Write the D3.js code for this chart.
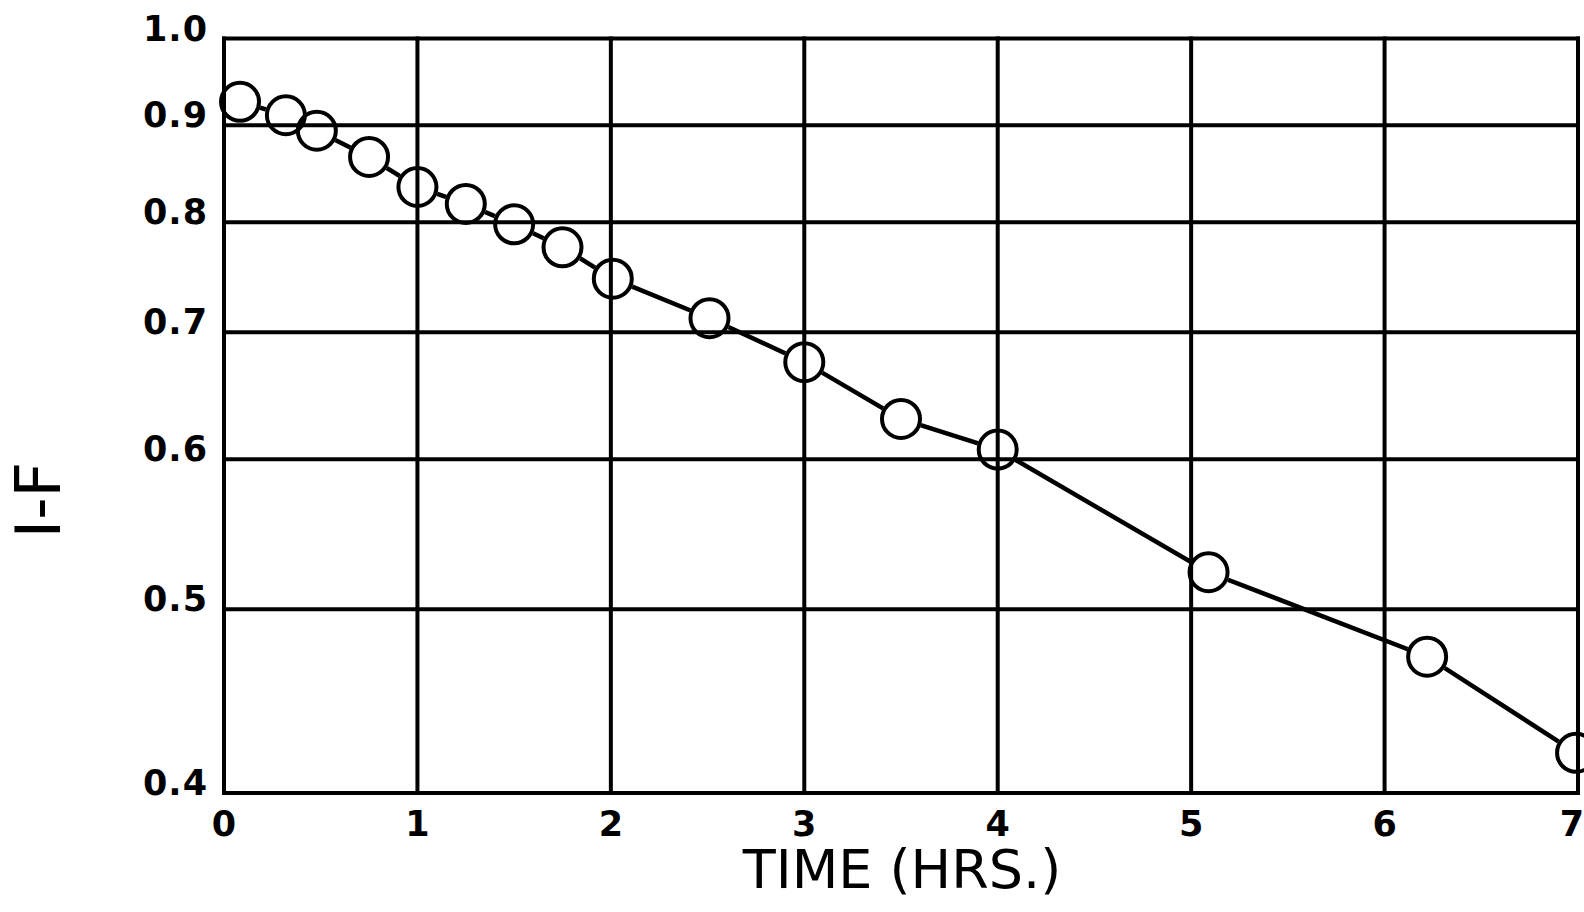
<!DOCTYPE html>
<html>
<head>
<meta charset="utf-8">
<script src="https://cdn.jsdelivr.net/npm/d3@7"></script>
<style>
  body { margin: 0; background: #fff; }
  svg { display: block; }
</style>
</head>
<body>
<script>
// measured samples: time in hours, 1-F
const times = [0.083, 0.32, 0.48, 0.75, 1.0, 1.25, 1.5, 1.75, 2.01, 2.51, 3.0, 3.5, 4.0, 5.09, 6.22, 6.99];
const values = [0.926, 0.911, 0.894, 0.866, 0.835, 0.818, 0.798, 0.776, 0.747, 0.712, 0.675, 0.630, 0.607, 0.523, 0.472, 0.420];
const xTicks = [0, 1, 2, 3, 4, 5, 6, 7];
const yTicks = [0.4, 0.5, 0.6, 0.7, 0.8, 0.9, 1.0];
const yTickLabels = ["0.4", "0.5", "0.6", "0.7", "0.8", "0.9", "1.0"];

const w = 1584;
const h = 912;
const plotLeft = 224, plotRight = 1578, plotTop = 38.5, plotBottom = 793;
const r = 19;

const svg = d3.select("body").append("svg")
              .attr("width", w).attr("height", h);

const x = d3.scaleLinear().domain([0, 7]).range([plotLeft, plotRight]);
const y = d3.scaleLog().domain([0.4, 1.0]).range([plotBottom, plotTop]);

const data = times.map((t, i) => ({ t: t, v: values[i] }));

// grid
const grid = svg.append("g").attr("stroke", "#000").attr("stroke-width", 4);
grid.selectAll("line.v").data(xTicks).enter().append("line")
    .attr("class", "v")
    .attr("x1", d => x(d)).attr("x2", d => x(d))
    .attr("y1", plotTop - 2).attr("y2", plotBottom + 2);
grid.selectAll("line.h").data(yTicks).enter().append("line")
    .attr("class", "h")
    .attr("x1", plotLeft - 2).attr("x2", plotRight + 2)
    .attr("y1", d => y(d)).attr("y2", d => y(d));

// tick labels
svg.append("g").selectAll("text").data(yTicks).enter().append("text")
   .attr("x", 208)
   .attr("y", d => y(d) + 2)
   .attr("text-anchor", "end")
   .attr("font-family", "DejaVu Sans")
   .attr("font-weight", "bold")
   .attr("font-size", 35)
   .attr("letter-spacing", 1)
   .text((d, i) => yTickLabels[i]);

svg.append("g").selectAll("text").data(xTicks).enter().append("text")
   .attr("x", d => Math.min(x(d), w - 12))
   .attr("y", 836)
   .attr("text-anchor", "middle")
   .attr("font-family", "DejaVu Sans")
   .attr("font-weight", "bold")
   .attr("font-size", 35)
   .text(d => d);

// axis titles
svg.append("text")
   .attr("x", 902).attr("y", 888)
   .attr("text-anchor", "middle")
   .attr("font-family", "DejaVu Sans")
   .attr("font-size", 54)
   .text("TIME (HRS.)");

svg.append("text")
   .attr("transform", "translate(60, 500) rotate(-90)")
   .attr("text-anchor", "middle")
   .attr("font-family", "DejaVu Sans")
   .attr("font-size", 62)
   .text("I-F");

// the line stops at each open circle
const mask = svg.append("defs").append("mask").attr("id", "holes");
mask.append("rect").attr("width", w).attr("height", h).attr("fill", "#fff");
mask.selectAll("circle").data(data).enter().append("circle")
    .attr("cx", d => x(d.t)).attr("cy", d => y(d.v))
    .attr("r", r + 2).attr("fill", "#000");

const line = d3.line().x(d => x(d.t)).y(d => y(d.v));
svg.append("path")
   .datum(data)
   .attr("d", line)
   .attr("fill", "none")
   .attr("stroke", "#000")
   .attr("stroke-width", 4.5)
   .attr("mask", "url(#holes)");

svg.append("g").selectAll("circle").data(data).enter().append("circle")
   .attr("cx", d => x(d.t)).attr("cy", d => y(d.v))
   .attr("r", r)
   .attr("fill", "none")
   .attr("stroke", "#000")
   .attr("stroke-width", 4);
</script>
</body>
</html>
